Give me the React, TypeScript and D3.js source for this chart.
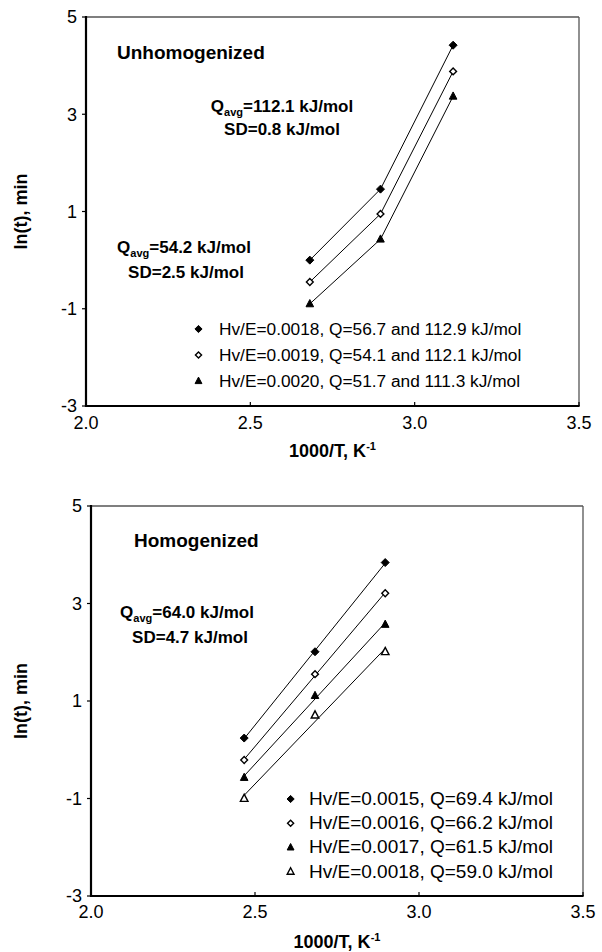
import React from "react";
import * as d3 from "d3";

// ---------- data ----------
const xTicks = [2.0, 2.5, 3.0, 3.5];
const yTicks = [-3, -1, 1, 3, 5];

const unhomX = [2.681, 2.896, 3.117];
const unhom18 = [0.0, 1.46, 4.42];
const unhom19 = [-0.45, 0.95, 3.88];
const unhom20 = [-0.9, 0.43, 3.37];
const unhomLabels = [
  "Hv/E=0.0018, Q=56.7 and 112.9 kJ/mol",
  "Hv/E=0.0019, Q=54.1 and 112.1 kJ/mol",
  "Hv/E=0.0020, Q=51.7 and 111.3 kJ/mol",
];
const unhomMarkers = ["diamondFilled", "diamondOpen", "triFilled"];

const homX = [2.467, 2.683, 2.897];
const hom15 = [0.24, 2.01, 3.84];
const hom16 = [-0.21, 1.55, 3.21];
const hom17 = [-0.57, 1.11, 2.57];
const hom18 = [-1.0, 0.71, 2.01];
const homLabels = [
  "Hv/E=0.0015, Q=69.4 kJ/mol",
  "Hv/E=0.0016, Q=66.2 kJ/mol",
  "Hv/E=0.0017, Q=61.5 kJ/mol",
  "Hv/E=0.0018, Q=59.0 kJ/mol",
];
const homMarkers = ["diamondFilled", "diamondOpen", "triFilled", "triOpen"];

const FONT = "'Liberation Sans', Arial, Helvetica, sans-serif";

function markerPath(kind: string, cx: number, cy: number, s: number) {
  if (kind.startsWith("diamond")) {
    return `M${cx},${cy - s}L${cx + s},${cy}L${cx},${cy + s}L${cx - s},${cy}Z`;
  }
  const h = s * 1.9;
  return `M${cx},${cy - h * 0.6}L${cx + s},${cy + h * 0.4}L${cx - s},${cy + h * 0.4}Z`;
}

function Marker({ kind, cx, cy, size }: { kind: string; cx: number; cy: number; size: number }) {
  const open = kind.endsWith("Open");
  const s = kind.startsWith("diamond") ? (open ? size * 0.85 : size) : size * 0.95;
  return (
    <path
      d={markerPath(kind, cx, cy, s)}
      fill={open ? "#fff" : "#000"}
      stroke="#000"
      strokeWidth={open ? 1.4 : 1}
      strokeLinejoin="miter"
    />
  );
}

function fit(xs: number[], ys: number[]) {
  const mx = d3.mean(xs)!;
  const my = d3.mean(ys)!;
  let sxy = 0, sxx = 0;
  xs.forEach((x, i) => { sxy += (x - mx) * (ys[i] - my); sxx += (x - mx) * (x - mx); });
  const b = sxy / sxx;
  const a = my - b * mx;
  return (x: number) => a + b * x;
}

type Ann = { q: string; sd: string; qx: number; sdx: number; qy: number; sdy: number };

function Panel(props: {
  left: number; right: number; top: number; bottom: number;
  xs: number[]; series: number[][]; markers: string[]; labels: string[];
  mode: "poly" | "fit";
  title: string; titleX: number; titleY: number;
  anns: Ann[];
  legX: number; legTextX: number; legY0: number; legDy: number; legFont: number;
  tickBase: number; xTitleBase: number;
}) {
  const { left, right, top, bottom } = props;
  const x = d3.scaleLinear().domain([2.0, 3.5]).range([left, right]);
  const y = d3.scaleLinear().domain([-3, 5]).range([bottom, top]);
  const line = d3.line<[number, number]>().x((d) => x(d[0])).y((d) => y(d[1]));
  return (
    <g fontFamily={FONT}>
      {/* frame */}
      <line x1={left} y1={top} x2={right} y2={top} stroke="#555" strokeWidth={1.3} />
      <line x1={right} y1={top} x2={right} y2={bottom} stroke="#555" strokeWidth={1.3} />
      <line x1={left} y1={top - 1} x2={left} y2={bottom + 1} stroke="#000" strokeWidth={2.2} />
      <line x1={left - 1} y1={bottom} x2={right + 0.6} y2={bottom} stroke="#000" strokeWidth={2.2} />
      {/* y ticks */}
      {yTicks.map((t) => (
        <g key={"y" + t}>
          <line x1={left - 4} x2={left} y1={y(t)} y2={y(t)} stroke="#000" strokeWidth={1.2} />
          <text x={left - 9} y={y(t)} dy="0.35em" textAnchor="end" fontSize={18}>{t}</text>
        </g>
      ))}
      {/* x ticks */}
      {xTicks.map((t) => (
        <g key={"x" + t}>
          <line x1={x(t)} x2={x(t)} y1={bottom} y2={bottom - 4} stroke="#000" strokeWidth={1.2} />
          <text x={x(t)} y={props.tickBase} textAnchor="middle" fontSize={18}>{d3.format(".1f")(t)}</text>
        </g>
      ))}
      {/* axis titles */}
      <text x={(left + right) / 2} y={props.xTitleBase} textAnchor="middle" fontSize={18} fontWeight="bold">
        1000/T, K<tspan fontSize={11} dy={-7}>-1</tspan>
      </text>
      <text transform={`translate(27,${(top + bottom) / 2}) rotate(-90)`} textAnchor="middle" fontSize={18} fontWeight="bold">
        ln(t), min
      </text>
      {/* lines */}
      {props.series.map((ys, i) => {
        if (props.mode === "poly") {
          const pts = props.xs.map((xv, j) => [xv, ys[j]] as [number, number]);
          return <path key={"l" + i} d={line(pts)!} fill="none" stroke="#000" strokeWidth={1} />;
        }
        const f = fit(props.xs, ys);
        const x0 = d3.min(props.xs)!, x1 = d3.max(props.xs)!;
        return <path key={"l" + i} d={line([[x0, f(x0)], [x1, f(x1)]])!} fill="none" stroke="#000" strokeWidth={1} />;
      })}
      {/* markers */}
      {props.series.map((ys, i) =>
        ys.map((v, j) => (
          <Marker key={`m${i}-${j}`} kind={props.markers[i]} cx={x(props.xs[j])} cy={y(v)} size={4} />
        ))
      )}
      {/* title */}
      <text x={props.titleX} y={props.titleY} fontSize={19} fontWeight="bold">{props.title}</text>
      {/* annotations */}
      {props.anns.map((a, i) => (
        <g key={"a" + i} fontSize={17} fontWeight="bold">
          <text x={a.qx} y={a.qy} textAnchor="middle">
            Q<tspan fontSize={11} dy={4}>avg</tspan><tspan dy={-4}>{a.q}</tspan>
          </text>
          <text x={a.sdx} y={a.sdy} textAnchor="middle">{a.sd}</text>
        </g>
      ))}
      {/* legend */}
      {props.labels.map((l, i) => (
        <g key={"g" + i}>
          <Marker kind={props.markers[i]} cx={props.legX} cy={props.legY0 + i * props.legDy - 6} size={3.6} />
          <text x={props.legTextX} y={props.legY0 + i * props.legDy} fontSize={props.legFont}>{l}</text>
        </g>
      ))}
    </g>
  );
}

export default function App() {
  return (
    <svg width={602} height={952} style={{ position: "absolute", left: 0, top: 0, background: "#fff" }}>
      <rect width={602} height={952} fill="#fff" />
      <Panel
        left={86} right={579} top={17} bottom={406}
        xs={unhomX} series={[unhom18, unhom19, unhom20]} markers={unhomMarkers} labels={unhomLabels}
        mode="poly"
        title="Unhomogenized" titleX={117} titleY={59}
        anns={[
          { q: "=112.1 kJ/mol", sd: "SD=0.8 kJ/mol", qx: 282, sdx: 282, qy: 112, sdy: 135 },
          { q: "=54.2 kJ/mol", sd: "SD=2.5 kJ/mol", qx: 184, sdx: 186, qy: 253, sdy: 278 },
        ]}
        legX={198.5} legTextX={219} legY0={335} legDy={26} legFont={17.3}
        tickBase={429} xTitleBase={457}
      />
      <Panel
        left={91} right={583} top={506} bottom={896}
        xs={homX} series={[hom15, hom16, hom17, hom18]} markers={homMarkers} labels={homLabels}
        mode="fit"
        title="Homogenized" titleX={134} titleY={547}
        anns={[
          { q: "=64.0 kJ/mol", sd: "SD=4.7 kJ/mol", qx: 187, sdx: 190, qy: 618, sdy: 643 },
        ]}
        legX={290.6} legTextX={309} legY0={805} legDy={24.2} legFont={19}
        tickBase={918} xTitleBase={948}
      />
    </svg>
  );
}
